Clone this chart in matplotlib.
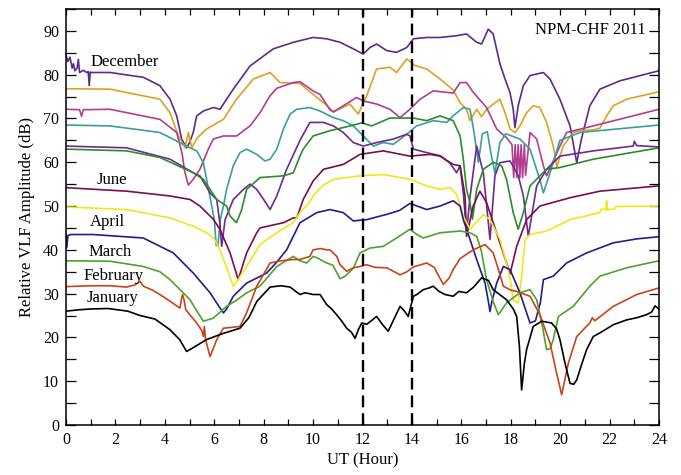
import matplotlib
matplotlib.use("Agg")
import matplotlib.pyplot as plt
from matplotlib.ticker import MultipleLocator

plt.rcParams['font.family'] = ['Liberation Serif', 'DejaVu Serif']

# ---------------- data (UT hour, relative amplitude dB) ----------------
jan_h = [0, 0.5, 1.0, 1.7, 2.5, 3.0, 3.6, 4.2, 4.6, 4.88, 5.1, 5.69, 6.3, 7.04, 7.4, 7.72, 8.26, 8.7, 9.07, 9.3,
         9.47, 9.67, 10.0, 10.28, 10.55, 10.75, 10.95, 11.15, 11.36, 11.55, 11.7, 11.85, 11.97, 12.17, 12.4, 12.57,
         12.8, 13.04, 13.3, 13.52, 13.7, 13.85, 14.06, 14.2, 14.46, 14.7, 14.86, 15.1, 15.34, 15.67, 15.9, 16.21,
         16.5, 16.82, 17.1, 17.29, 17.83, 18.1, 18.24, 18.35, 18.44, 18.55, 18.64, 18.91, 19.25, 19.65, 19.85, 19.99,
         20.2, 20.4, 20.55, 20.67, 20.85, 21.07, 21.34, 21.6, 22.15, 22.69, 23.1, 23.5, 23.7, 23.84, 24]
jan_v = [26.0, 26.3, 26.5, 26.6, 26.0, 25.0, 24.2, 21.8, 19.5, 16.8, 17.5, 19.5, 20.8, 22.1, 24.5, 28.2, 31.5, 31.8,
         31.5, 30.5, 29.8, 30.2, 29.8, 29.8, 27.5, 26.5, 25.2, 23.8, 22.1, 21.2, 19.8, 22.0, 23.3, 23.0, 24.0, 24.8,
         23.0, 21.4, 24.5, 27.1, 26.0, 24.8, 29.4, 29.8, 30.9, 31.3, 31.7, 30.5, 29.8, 29.4, 30.5, 30.2, 31.5, 33.6,
         33.0, 30.9, 28.6, 26.5, 24.8, 18.0, 8.0, 14.0, 17.2, 22.5, 23.7, 23.3, 22.0, 19.5, 14.0, 9.5, 9.3, 10.3,
         13.5, 17.2, 20.2, 21.0, 22.9, 24.0, 24.5, 25.2, 25.8, 27.2, 26.5]

feb_h = [0, 1.0, 1.78, 2.45, 2.8, 3.0, 3.13, 3.5, 3.8, 4.2, 4.61, 4.68, 4.72, 4.78, 4.85, 5.29, 5.5, 5.56, 5.6, 5.65,
         5.83, 6.1, 6.37, 7.04, 7.31, 7.72, 8.26, 8.7, 9.2, 9.47, 9.87, 10.0, 10.3, 10.55, 10.68, 10.96, 11.09, 11.36,
         11.63, 11.9, 12.17, 12.5, 12.98, 13.52, 13.8, 14.06, 14.6, 14.9, 15.27, 15.5, 15.67, 15.95, 16.08, 16.48,
         16.96, 17.29, 17.5, 17.7, 18.0, 18.24, 18.78, 19.18, 19.59, 19.85, 20.06, 20.33, 20.67, 21.2, 21.3, 21.4,
         22.15, 23.1, 24]
feb_v = [31.6, 31.8, 31.8, 31.5, 32.0, 32.8, 31.7, 30.8, 29.8, 28.3, 26.7, 29.0, 29.8, 28.5, 26.3, 23.3, 21.5, 20.2,
         22.5, 19.5, 15.6, 19.5, 22.1, 22.5, 25.6, 31.7, 37.0, 37.5, 37.8, 37.8, 38.5, 40.0, 40.3, 40.0, 40.0, 38.5,
         36.6, 35.1, 35.9, 36.2, 36.6, 36.0, 35.9, 34.3, 35.0, 36.1, 37.0, 36.0, 32.1, 33.5, 35.5, 38.0, 38.5, 40.0,
         41.2, 39.3, 35.5, 31.7, 30.8, 30.5, 29.4, 25.2, 18.7, 12.0, 6.9, 14.1, 20.2, 23.3, 24.5, 23.8, 27.1, 29.8,
         31.3]

mar_h = [0, 1.78, 3.13, 3.8, 4.21, 4.6, 5.02, 5.3, 5.56, 5.96, 6.5, 6.9, 7.31, 7.85, 8.2, 8.53, 9.2, 9.47, 9.74,
         10.0, 10.15, 10.55, 10.8, 11.09, 11.3, 11.63, 11.9, 12.3, 12.84, 13.38, 13.92, 14.2, 14.46, 15.14, 15.95,
         16.35, 16.62, 16.8, 17.02, 17.3, 17.5, 17.83, 18.37, 18.78, 19.05, 19.3, 19.45, 19.6, 19.72, 19.93, 20.53,
         21.2, 21.61, 22.69, 24]
mar_v = [37.5, 37.4, 36.2, 35.0, 33.2, 31.0, 28.6, 26.0, 23.7, 24.4, 27.1, 28.5, 30.2, 31.7, 34.0, 36.2, 38.5, 37.5,
         37.0, 38.5, 38.2, 37.0, 36.5, 33.4, 34.0, 35.8, 39.3, 40.4, 40.8, 42.7, 44.7, 43.5, 42.7, 43.9, 44.3, 43.9,
         43.1, 40.0, 33.2, 28.0, 25.2, 27.9, 30.2, 30.9, 28.6, 22.0, 17.2, 17.5, 19.5, 24.8, 27.1, 31.7, 34.0, 35.9,
         37.5]

apr_h = [0, 0.03, 0.08, 0.2, 1.1, 3.13, 4.34, 5.15, 5.83, 6.2, 6.37, 6.5, 6.77, 7.31, 8.12, 8.5, 8.93, 9.47, 10.15,
         10.68, 11.22, 11.63, 12.17, 12.98, 13.5, 13.92, 14.6, 15.14, 15.67, 15.95, 16.08, 16.35, 16.62, 16.96, 17.1,
         17.16, 17.23, 17.43, 17.7, 17.97, 18.37, 18.78, 19.0, 19.2, 19.32, 19.72, 20.26, 21.07, 22.15, 23.1, 24]
apr_v = [43.5, 40.5, 43.3, 43.5, 43.5, 42.7, 39.3, 34.7, 30.2, 27.0, 25.6, 26.5, 29.4, 32.4, 34.7, 37.0, 40.0, 46.2,
         48.5, 49.2, 48.5, 46.6, 46.9, 48.1, 49.0, 50.6, 49.2, 50.0, 51.2, 50.0, 46.9, 42.4, 37.8, 32.4, 28.0, 25.9,
         28.0, 32.4, 36.2, 35.5, 30.2, 23.3, 23.8, 28.0, 33.2, 34.0, 37.0, 39.3, 41.6, 42.5, 43.0]

may_h = [0, 2.45, 4.21, 5.15, 5.69, 6.0, 6.23, 6.5, 6.77, 7.0, 7.31, 7.85, 8.53, 9.2, 9.47, 9.8, 10.1, 10.42, 10.82,
         11.9, 12.84, 13.92, 14.6, 15.14, 15.54, 15.81, 16.08, 16.35, 16.89, 17.16, 17.56, 17.83, 17.97, 18.1, 18.3,
         18.44, 18.58, 18.78, 19.45, 20.4, 21.61, 21.65, 21.85, 21.88, 21.92, 21.95, 22.2, 22.25, 24]
may_v = [49.8, 49.2, 47.3, 45.4, 43.9, 42.5, 40.0, 36.0, 31.7, 33.5, 36.2, 41.2, 43.9, 46.2, 48.5, 50.5, 53.0, 54.8,
         56.1, 56.9, 57.2, 56.1, 54.6, 53.8, 54.2, 52.7, 47.7, 44.7, 48.1, 46.9, 42.4, 37.0, 33.5, 28.5, 27.9, 34.0,
         42.4, 43.5, 44.3, 46.9, 48.5, 49.3, 49.2, 51.2, 49.0, 49.2, 49.3, 49.9, 50.0]

jun_h = [0, 2.45, 4.21, 5.02, 5.42, 5.96, 6.23, 6.64, 6.97, 7.31, 7.72, 7.85, 8.8, 9.2, 9.34, 9.6, 10.0, 10.42, 11.22,
         11.9, 12.84, 13.92, 14.73, 15.14, 15.67, 15.95, 16.15, 16.21, 16.48, 16.75, 17.02, 17.29, 17.56, 17.83,
         17.97, 18.24, 18.64, 19.18, 20.4, 21.61, 24]
jun_v = [54.2, 53.4, 52.3, 51.5, 50.0, 47.0, 44.7, 39.3, 33.2, 39.3, 43.9, 45.0, 46.2, 47.3, 47.3, 51.5, 55.7, 58.4,
         59.5, 61.8, 62.6, 61.4, 61.8, 61.4, 59.5, 59.2, 52.3, 43.1, 50.0, 53.4, 50.8, 46.2, 41.6, 37.0, 34.5, 40.8,
         46.9, 50.0, 51.9, 53.4, 54.6]

jul_h = [0, 2.45, 3.8, 5.15, 5.56, 5.83, 6.1, 6.5, 6.64, 6.9, 7.1, 7.31, 7.85, 8.8, 9.2, 9.47, 9.6, 10.0, 10.68, 11.5,
         11.97, 12.37, 13.11, 14.06, 14.6, 15.14, 15.67, 15.95, 16.08, 16.21, 16.35, 16.45, 16.62, 16.89, 17.29,
         17.63, 17.83, 18.1, 18.3, 18.51, 18.78, 19.18, 19.45, 19.99, 21.34, 24]
jul_v = [63.0, 62.6, 61.1, 57.6, 56.1, 53.8, 51.5, 50.0, 47.7, 46.2, 49.0, 53.8, 56.5, 56.9, 57.6, 61.4, 63.0, 66.0,
         67.2, 68.3, 69.0, 68.3, 70.1, 70.1, 69.5, 70.6, 69.5, 66.0, 60.7, 53.8, 50.8, 47.0, 53.8, 58.4, 60.0, 59.2,
         56.1, 48.5, 44.7, 48.5, 54.6, 56.9, 58.4, 58.8, 60.7, 63.3]

aug_h = [0, 2.45, 4.21, 5.15, 5.42, 5.83, 6.1, 6.23, 6.3, 6.44, 6.77, 7.18, 7.45, 7.72, 8.0, 8.26, 8.53, 8.93, 9.47,
         9.87, 10.42, 10.82, 11.22, 11.63, 12.03, 12.57, 13.25, 13.79, 13.92, 14.06, 14.6, 15.14, 15.54, 15.81, 15.95,
         16.08, 16.21, 16.35, 16.62, 16.89, 17.16, 17.36, 17.56, 17.97, 18.3, 18.51, 18.71, 19.05, 19.45, 19.99,
         21.34, 22.96, 23.0, 23.1, 24]
aug_v = [63.7, 63.3, 60.7, 57.6, 56.9, 53.0, 51.5, 46.0, 40.8, 46.9, 51.5, 53.8, 55.0, 53.8, 51.5, 49.2, 52.3, 58.4,
         65.0, 69.1, 69.1, 68.3, 66.8, 64.5, 63.7, 64.5, 65.3, 66.4, 66.0, 63.0, 62.2, 61.5, 59.8, 57.6, 59.2, 53.0,
         43.9, 52.0, 63.7, 57.6, 42.4, 56.9, 59.9, 60.3, 57.0, 52.3, 43.1, 54.6, 58.4, 61.4, 62.6, 63.7, 64.8, 63.8,
         63.5]

sep_h = [0, 1.78, 3.8, 4.88, 5.29, 5.56, 5.83, 6.0, 6.08, 6.15, 6.25, 6.37, 6.5, 6.77, 7.04, 7.31, 7.72, 8.05, 8.26,
         8.53, 8.8, 9.07, 9.34, 9.87, 10.28, 10.82, 11.22, 11.63, 12.03, 12.44, 12.84, 13.25, 13.79, 14.19, 14.86,
         15.41, 15.67, 16.08, 16.35, 16.48, 16.69, 16.85, 17.05, 17.2, 17.36, 17.56, 17.8, 18.37, 18.78, 19.18,
         19.32, 19.59, 19.99, 20.8, 24]
sep_v = [68.5, 68.3, 66.8, 63.7, 62.6, 59.9, 52.0, 47.0, 41.0, 41.0, 47.0, 50.0, 53.8, 59.2, 62.2, 63.0, 61.8, 60.3,
         60.7, 63.0, 67.6, 71.0, 72.1, 72.5, 71.7, 70.2, 69.5, 68.3, 66.0, 63.7, 64.5, 64.1, 66.4, 68.3, 69.5, 69.1,
         70.6, 72.5, 72.1, 68.0, 60.0, 66.5, 67.0, 62.0, 57.5, 64.5, 66.5, 65.3, 63.0, 56.0, 53.0, 57.6, 65.0, 66.8,
         68.5]

oct_h = [0, 0.55, 0.63, 0.7, 1.78, 3.8, 4.48, 4.7, 4.8, 4.95, 5.15, 5.42, 5.76, 5.96, 6.37, 6.9, 7.45, 7.85, 8.26,
         8.53, 9.2, 9.47, 10.0, 10.28, 10.68, 10.82, 11.22, 11.76, 12.03, 12.57, 13.11, 13.52, 13.92, 14.33, 14.86,
         15.67, 15.95, 16.21, 16.48, 17.02, 17.43, 17.83, 18.05, 18.12, 18.18, 18.25, 18.3, 18.37, 18.42, 18.48,
         18.55, 18.6, 18.78, 19.05, 19.32, 19.45, 19.99, 20.26, 21.34, 24]
oct_v = [72.1, 72.0, 70.5, 72.0, 72.1, 69.8, 66.8, 62.0, 58.0, 54.8, 56.1, 58.4, 63.0, 65.3, 66.0, 66.0, 68.3, 71.3,
         75.2, 76.9, 78.2, 78.4, 76.3, 75.5, 72.0, 71.5, 72.9, 74.8, 74.0, 73.3, 72.1, 70.2, 72.1, 74.4, 76.3, 75.8,
         78.2, 78.2, 76.0, 72.5, 67.6, 65.6, 64.0, 56.5, 64.0, 56.5, 64.0, 56.5, 64.0, 56.5, 64.0, 57.0, 66.8, 65.3,
         59.2, 56.9, 63.7, 66.8, 68.3, 72.1]

nov_h = [0, 1.78, 3.8, 4.21, 4.55, 4.82, 4.95, 5.09, 5.3, 5.69, 6.37, 6.9, 7.58, 8.26, 8.66, 9.47, 10.0, 10.55,
         10.82, 11.49, 11.83, 11.97, 12.17, 12.57, 13.11, 13.38, 13.79, 14.12, 14.6, 15.14, 15.67, 15.95, 16.21,
         16.35, 16.62, 16.82, 17.02, 17.56, 17.77, 17.97, 18.17, 18.37, 18.64, 18.91, 19.18, 19.45, 19.72, 19.87,
         20.12, 20.53, 20.8, 21.34, 21.61, 21.88, 22.15, 22.69, 24]
nov_v = [76.8, 76.7, 74.4, 71.3, 66.0, 63.3, 66.8, 63.3, 65.5, 67.6, 69.8, 74.4, 79.0, 80.5, 78.2, 78.0, 75.5, 73.0,
         71.5, 73.3, 71.0, 72.9, 75.2, 81.3, 81.7, 80.5, 83.6, 82.1, 81.3, 79.0, 76.5, 73.6, 72.1, 69.5, 72.1, 70.4,
         72.1, 74.4, 71.3, 67.6, 66.8, 68.3, 71.3, 72.9, 72.5, 69.1, 63.7, 59.0, 63.7, 66.8, 67.2, 67.4, 67.8, 70.6,
         72.9, 74.4, 76.1]

dec_h = [0, 0.08, 0.16, 0.25, 0.3, 0.36, 0.45, 0.5, 0.55, 0.7, 0.84, 0.9, 0.94, 0.98, 1.0, 1.78, 3.13, 3.8, 4.21,
         4.48, 4.68, 4.88, 5.0, 5.15, 5.29, 5.56, 5.96, 6.23, 6.77, 7.45, 8.39, 9.2, 10.0, 10.55, 11.09, 11.63, 12.03,
         12.3, 12.57, 12.98, 13.38, 13.79, 14.06, 14.6, 15.14, 15.81, 16.21, 16.62, 16.82, 17.09, 17.29, 17.56,
         17.77, 17.97, 18.1, 18.17, 18.3, 18.51, 18.78, 19.32, 19.59, 19.99, 20.4, 20.67, 20.86, 21.2, 21.61, 22.42,
         24]
dec_v = [84.5, 83.0, 84.0, 81.5, 82.5, 80.9, 81.5, 83.5, 80.5, 81.0, 80.5, 80.7, 77.5, 80.6, 80.5, 80.5, 79.4, 77.5,
         74.4, 70.6, 65.3, 63.3, 64.5, 66.8, 70.6, 71.7, 72.5, 72.1, 76.7, 82.0, 85.9, 87.4, 88.5, 88.2, 87.4, 85.9,
         84.7, 86.2, 87.0, 85.5, 85.1, 86.2, 88.2, 88.5, 88.5, 88.9, 89.3, 87.4, 87.0, 90.4, 89.3, 82.5, 79.0, 75.9,
         72.1, 67.9, 72.9, 77.5, 79.8, 80.5, 79.0, 74.4, 68.3, 59.9, 65.3, 72.9, 76.7, 78.6, 80.9]

month_labels = ["December", "June", "April", "March", "February", "January"]
label_x = [1.0, 1.22, 0.98, 0.9, 0.72, 0.84]
label_y = [82.9, 56.0, 46.4, 39.6, 34.0, 29.0]
title_text = "NPM-CHF 2011"
dashed_hours = [12, 14]

# ---------------- plotting ----------------
fig = plt.figure(figsize=(6.81, 4.75), dpi=100)
ax = fig.add_axes([66 / 681, 50 / 475, 593 / 681, 416 / 475])

series = [
    (jan_h, jan_v, "#000000"),
    (feb_h, feb_v, "#c8441c"),
    (mar_h, mar_v, "#4ea22e"),
    (apr_h, apr_v, "#261b8c"),
    (may_h, may_v, "#f2e619"),
    (jun_h, jun_v, "#7a0c52"),
    (jul_h, jul_v, "#2b8c2b"),
    (aug_h, aug_v, "#6c2a92"),
    (sep_h, sep_v, "#3b9e9e"),
    (oct_h, oct_v, "#b03e8e"),
    (nov_h, nov_v, "#e0a021"),
    (dec_h, dec_v, "#5b2a8c"),
]
for h, v, c in series[::-1]:
    ax.plot(h, v, color=c, lw=1.2, solid_joinstyle='round')

for hh in dashed_hours:
    ax.axvline(hh, color='black', lw=1.7, linestyle=(0, (5, 2.5)))

for t, x, y in zip(month_labels, label_x, label_y):
    ax.text(x, y, t, fontsize=12, ha='left', va='center')

ax.text(23.45, 90.3, title_text, fontsize=12, ha='right', va='center',
        bbox=dict(facecolor='white', edgecolor='none', pad=1))

ax.set_xlim(0, 24)
ax.set_ylim(0, 95)
ax.xaxis.set_major_locator(MultipleLocator(2))
ax.xaxis.set_minor_locator(MultipleLocator(1))
ax.yaxis.set_major_locator(MultipleLocator(10))
ax.yaxis.set_minor_locator(MultipleLocator(5))
ax.tick_params(axis='x', which='both', direction='in', top=True, length=4.5, width=0.9, labelsize=11.5, pad=5)
ax.tick_params(axis='y', which='both', direction='in', right=True, length=7, width=0.9, labelsize=11.5, pad=5)
for s in ax.spines.values():
    s.set_linewidth(1.1)

ax.set_xlabel("UT (Hour)", fontsize=12, labelpad=3)
ax.set_ylabel("Relative VLF Amplitude (dB)", fontsize=12, labelpad=6)

fig.savefig("out.png", dpi=100)
